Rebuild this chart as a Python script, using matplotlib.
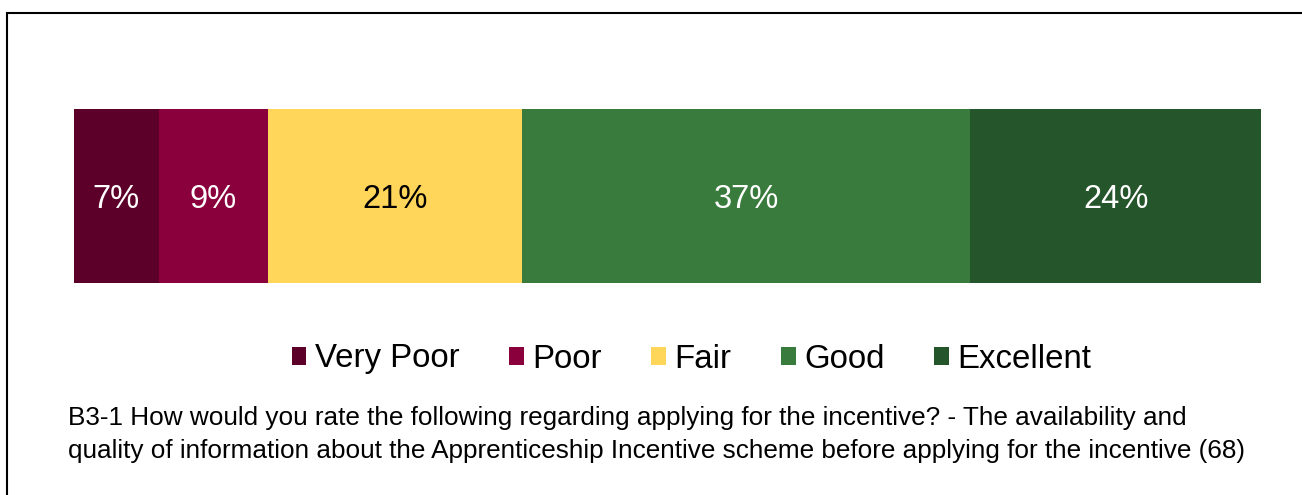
import matplotlib
matplotlib.use("Agg")
import matplotlib.pyplot as plt
from matplotlib.patches import Patch, Rectangle

plt.rcParams['font.family'] = ['Liberation Sans', 'DejaVu Sans']

# ratings and share of respondents (%)
categories = ["Very Poor", "Poor", "Fair", "Good", "Excellent"]
shares = [7, 9, 21, 37, 24]
colours = ["#5C0029", "#89003C", "#FFD55A", "#397B3C", "#25552A"]
text_colours = ["white", "white", "black", "white", "white"]

caption = ("B3-1 How would you rate the following regarding applying for the incentive? - The availability and\n"
           "quality of information about the Apprenticeship Incentive scheme before applying for the incentive (68)")

W, H = 1302, 495
fig = plt.figure(figsize=(W / 100, H / 100), dpi=100)
ax = fig.add_axes([74 / W, 1 - 283 / H, (1261 - 74) / W, (283 - 109) / H])

left = 0
for cat, val, col, tcol in zip(categories, shares, colours, text_colours):
    ax.barh(0, val, left=left, height=1.0, color=col, label=cat)
    # labels sit on a baseline slightly below the bar middle
    ax.text(left + val / 2, -0.068, f"{val}%", ha="center", va="baseline",
            color=tcol, fontsize=23.5)
    left += val

ax.set_xlim(0, sum(shares))
ax.set_ylim(-0.5, 0.5)
ax.axis("off")

handles = [Patch(facecolor=c, edgecolor="none") for c in colours]
fig.legend(handles, categories, loc="center", bbox_to_anchor=(0.531, 1 - 359 / H),
           ncol=5, frameon=False, fontsize=23.8, handlelength=0.45, handleheight=0.45,
           handletextpad=0.25, columnspacing=1.5)

fig.text(68 / W, 1 - 406 / H, caption, ha="left", va="top", fontsize=18.8,
         linespacing=1.48)

# outer frame
fig.patches.append(Rectangle((7 / W, -0.05), 1.1, 1 - 12.5 / H + 0.05,
                             transform=fig.transFigure, fill=False,
                             edgecolor="black", linewidth=1.5))

fig.savefig("out.png", dpi=100)
